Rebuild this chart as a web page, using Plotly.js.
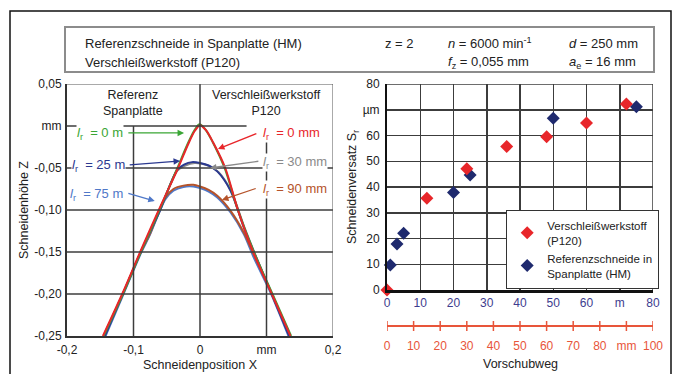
<!DOCTYPE html>
<html><head><meta charset="utf-8">
<script src="https://cdn.plot.ly/plotly-3.0.1.min.js"></script>
<style>html,body{margin:0;padding:0;background:#fff}#chart{width:678px;height:374px}</style>
</head><body><div id="chart"></div>
<script>
// ---------- Left chart: edge profiles (Schneidenposition X [mm], Schneidenhöhe Z [mm]) ----------
const greenX = [-0.145,-0.116,-0.089,-0.061,-0.034,-0.019,-0.009,-0.001,0.008,0.019,0.037,0.057,0.081,0.109,0.137];
const greenZ = [-0.25,-0.20,-0.15,-0.10,-0.05,-0.022,-0.006,0.002,-0.004,-0.019,-0.05,-0.10,-0.15,-0.20,-0.25];
const redX = [-0.146,-0.117,-0.090,-0.062,-0.033,-0.018,-0.008,0.000,0.009,0.020,0.038,0.057,0.080,0.108,0.136];
const redZ = [-0.25,-0.20,-0.15,-0.10,-0.05,-0.022,-0.006,0.001,-0.005,-0.020,-0.05,-0.10,-0.15,-0.20,-0.25];
const darkBlueX = [-0.143,-0.116,-0.089,-0.060,-0.045,-0.034,-0.024,-0.012,0.000,0.013,0.026,0.046,0.066,0.082,0.108,0.134];
const darkBlueZ = [-0.25,-0.20,-0.15,-0.10,-0.070,-0.052,-0.046,-0.043,-0.044,-0.047,-0.054,-0.077,-0.121,-0.152,-0.20,-0.25];
const grayX = [-0.144,-0.116,-0.089,-0.060,-0.045,-0.034,-0.022,-0.008,0.003,0.015,0.028,0.047,0.067,0.082,0.108,0.135];
const grayZ = [-0.25,-0.20,-0.15,-0.10,-0.070,-0.053,-0.047,-0.044,-0.045,-0.048,-0.055,-0.078,-0.121,-0.151,-0.20,-0.25];
const lightBlueX = [-0.142,-0.115,-0.088,-0.075,-0.062,-0.052,-0.040,-0.025,-0.010,0.000,0.013,0.026,0.046,0.066,0.081,0.107,0.133];
const lightBlueZ = [-0.25,-0.20,-0.15,-0.129,-0.104,-0.087,-0.077,-0.0725,-0.072,-0.074,-0.078,-0.085,-0.103,-0.129,-0.157,-0.20,-0.25];
const brownX = [-0.145,-0.116,-0.089,-0.075,-0.062,-0.052,-0.040,-0.025,-0.010,0.000,0.013,0.026,0.046,0.066,0.082,0.108,0.135];
const brownZ = [-0.25,-0.20,-0.15,-0.128,-0.102,-0.085,-0.075,-0.071,-0.070,-0.072,-0.076,-0.083,-0.101,-0.127,-0.155,-0.20,-0.25];

const leftXTickVals = [-0.2,-0.1,0,0.1,0.2];
const leftXTickText = ['-0,2','-0,1','0','mm','0,2'];
const leftYTickVals = [0.05,0,-0.05,-0.10,-0.15,-0.20,-0.25];
const leftYTickText = ['0,05','mm','-0,05','-0,10','-0,15','-0,20','-0,25'];

// ---------- Right chart: Schneidenversatz S_r [µm] vs Vorschubweg ----------
const redFeedMM = [0, 15, 30, 45, 60, 75, 90];
const redOffset = [0, 35.6, 47.1, 55.7, 59.5, 64.9, 72.2];
const blueFeedM = [1, 3, 5, 20, 25, 50, 75];
const blueOffset = [9.7, 17.9, 22.0, 37.9, 44.7, 66.7, 71.2];

const rightYTickVals = [0,10,20,30,40,50,60,70,80];
const rightYTickText = ['0','10','20','30','40','50','60','µm','80'];
const blueXTickVals = [0,10,20,30,40,50,60,70,80];
const blueXTickText = ['0','10','20','30','40','50','60','m','80'];
const redXTickVals = [0,10,20,30,40,50,60,70,80,90,100];
const redXTickText = ['0','10','20','30','40','50','60','70','80','mm','100'];

const FONT = 'Liberation Sans, Arial, sans-serif';
const W = 678, H = 374;
const px = v => v / W, py = v => (H - v) / H;

const cRed = '#e8262a', cGreen = '#3aa635', cDark = '#2b3990', cLight = '#4f78c8', cBrown = '#b5532a', cGray = '#8a8a8a';
const cNavy = '#1f2a6e', cAxisBlue = '#3d3c8e', cAxisRed = '#e8553a';

function prof(x, z, color, w) {
  return {x: x, y: z, xaxis: 'x', yaxis: 'y', type: 'scatter', mode: 'lines',
    line: {color: color, width: w || 2, shape: 'spline', smoothing: 0.8}, showlegend: false, hoverinfo: 'skip'};
}

const data = [
  prof(lightBlueX, lightBlueZ, cLight),
  prof(brownX, brownZ, cBrown),
  prof(grayX, grayZ, cGray),
  prof(darkBlueX, darkBlueZ, cDark),
  prof(greenX, greenZ, cGreen),
  prof(redX, redZ, cRed),
  {x: redFeedMM, y: redOffset, xaxis: 'x3', yaxis: 'y2', type: 'scatter', mode: 'markers',
   name: 'Verschleißwerkstoff<br>(P120)', cliponaxis: false,
   marker: {symbol: 'diamond', size: 10, color: cRed}},
  {x: blueFeedM, y: blueOffset, xaxis: 'x2', yaxis: 'y2', type: 'scatter', mode: 'markers',
   name: 'Referenzschneide in<br>Spanplatte (HM)', cliponaxis: false,
   marker: {symbol: 'diamond', size: 10, color: cNavy}}
];

const gridC = '#3c3c3c';
const shapes = [
  // outer frame and header box
  {type: 'rect', xref: 'paper', yref: 'paper', x0: px(10), x1: px(671), y0: py(11), y1: py(380), line: {color: '#111', width: 1.5}},
  {type: 'rect', xref: 'paper', yref: 'paper', x0: px(65), x1: px(654), y0: py(27), y1: py(72), line: {color: '#8c8c8c', width: 2}, fillcolor: '#fff'},
  // left chart grid
  {type: 'line', xref: 'x', yref: 'y', x0: 0, x1: 0, y0: 0.05, y1: -0.25, line: {color: gridC, width: 1.5}},
  {type: 'line', xref: 'x', yref: 'y', x0: -0.1, x1: -0.1, y0: 0, y1: -0.25, line: {color: gridC, width: 1.5}},
  {type: 'line', xref: 'x', yref: 'y', x0: 0.1, x1: 0.1, y0: 0, y1: -0.25, line: {color: gridC, width: 1.5}},
  {type: 'line', xref: 'x', yref: 'y', x0: -0.2, x1: 0.07, y0: 0, y1: 0, line: {color: gridC, width: 1.5}},
  {type: 'line', xref: 'x', yref: 'y', x0: -0.2, x1: 0.2, y0: -0.05, y1: -0.05, line: {color: gridC, width: 1.5}},
  {type: 'line', xref: 'x', yref: 'y', x0: -0.2, x1: 0.2, y0: -0.10, y1: -0.10, line: {color: gridC, width: 1.5}},
  {type: 'line', xref: 'x', yref: 'y', x0: -0.2, x1: 0.2, y0: -0.15, y1: -0.15, line: {color: gridC, width: 1.5}},
  {type: 'line', xref: 'x', yref: 'y', x0: -0.2, x1: 0.2, y0: -0.20, y1: -0.20, line: {color: gridC, width: 1.5}},
  {type: 'line', xref: 'x', yref: 'y', x0: -0.2, x1: 0.2, y0: 0.05, y1: 0.05, line: {color: '#555', width: 1}},
  {type: 'line', xref: 'x', yref: 'y', x0: 0.2, x1: 0.2, y0: 0.05, y1: -0.25, line: {color: '#555', width: 1}},
  // right chart border top/right
  {type: 'line', xref: 'x2', yref: 'y2', x0: 0, x1: 80, y0: 80, y1: 80, line: {color: gridC, width: 1.5}},
  {type: 'line', xref: 'x2', yref: 'y2', x0: 80, x1: 80, y0: 0, y1: 80, line: {color: gridC, width: 1.5}},
  // red mm axis line
  {type: 'line', xref: 'x3', yref: 'paper', x0: redXTickVals[0], x1: redXTickVals[redXTickVals.length - 1],
   y0: py(326), y1: py(326), line: {color: cAxisRed, width: 2}}
];
// red axis cross ticks at its tick values
redXTickVals.forEach(v => shapes.push({type: 'line', xref: 'x3', yref: 'paper', x0: v, x1: v,
  y0: py(321), y1: py(331), line: {color: cAxisRed, width: 1.5}}));

function lbl(text, x, y, color, anchor) {
  return {text: text, x: x, y: y, xref: 'x', yref: 'y', xanchor: anchor, yanchor: 'middle', showarrow: false,
    font: {family: FONT, size: 13, color: color}, bgcolor: '#fff', borderpad: 0};
}
function arr(x, y, ax, ay, color) {
  return {text: '', x: x, y: y, ax: ax, ay: ay, xref: 'x', yref: 'y', axref: 'x', ayref: 'y', showarrow: true,
    arrowhead: 2, arrowsize: 1, arrowwidth: 1.3, arrowcolor: color};
}
function ptxt(text, x, y, opts) {
  return Object.assign({text: text, x: px(x), y: py(y), xref: 'paper', yref: 'paper', showarrow: false,
    xanchor: 'left', yanchor: 'middle', font: {family: FONT, size: 12, color: '#222'}}, opts || {});
}
const HF = {font: {family: FONT, size: 13, color: '#222'}};
const L = '<i>l</i><sub>r</sub>  = ';
const annotations = [
  // header box
  ptxt('Referenzschneide in Spanplatte (HM)', 83, 43, HF),
  ptxt('Verschleißwerkstoff (P120)', 83, 62, HF),
  ptxt('z = 2', 383, 43, HF),
  ptxt('<i>n</i> = 6000 min<sup style="font-size:8px">-1</sup>', 446, 43, HF),
  ptxt('<i>d</i> = 250 mm', 567, 43, HF),
  ptxt('<i>f</i><sub>z</sub> = 0,055 mm', 446, 62, HF),
  ptxt('<i>a</i><sub>e</sub> = 16 mm', 567, 62, HF),
  // left chart header labels
  ptxt('Referenz<br>Spanplatte', 133, 103, {xanchor: 'center', bgcolor: '#fff', font: {family: FONT, size: 12.5, color: '#222'}}),
  ptxt('Verschleißwerkstoff<br>P120', 266, 103, {xanchor: 'center', bgcolor: '#fff', font: {family: FONT, size: 12.5, color: '#222'}}),
  // axis titles
  ptxt('Schneidenhöhe Z', 24, 210, {xanchor: 'center', textangle: -90, font: {family: FONT, size: 12.5, color: '#222'}}),
  ptxt('Schneidenposition X', 200, 365, {xanchor: 'center', font: {family: FONT, size: 12.5, color: '#222'}}),
  ptxt('Schneidenversatz S<sub>r</sub>', 353, 187, {xanchor: 'center', textangle: -90, font: {family: FONT, size: 12.5, color: '#222'}}),
  ptxt('Vorschubweg', 520, 364, {xanchor: 'center', font: {family: FONT, size: 12.5, color: '#222'}}),
  // curve labels & arrows
  arr(-0.024, -0.0083, -0.110, -0.0083, cGreen),
  arr(-0.030, -0.0417, -0.108, -0.0464, cDark),
  arr(-0.068, -0.0893, -0.110, -0.0798, cLight),
  arr(0.027, -0.0274, 0.087, -0.0083, cRed),
  arr(0.015, -0.0500, 0.090, -0.0417, cGray),
  arr(0.033, -0.0881, 0.086, -0.0738, cBrown),
  lbl(L + '0 m', -0.1143, -0.0095, cGreen, 'right'),
  lbl(L + '25 m', -0.1113, -0.0476, cDark, 'right'),
  lbl(L + '75 m', -0.1143, -0.0821, cLight, 'right'),
  lbl(L + '0 mm', 0.093, -0.0095, cRed, 'left'),
  lbl(L + '30 mm', 0.093, -0.0432, cGray, 'left'),
  lbl(L + '90 mm', 0.093, -0.0750, cBrown, 'left')
];

const tickFont = {family: FONT, size: 12, color: '#222'};
const layout = {
  width: W, height: H, margin: {l: 0, r: 0, t: 0, b: 0},
  paper_bgcolor: '#fff', plot_bgcolor: '#fff', showlegend: true,
  font: {family: FONT},
  xaxis: {domain: [px(67), px(333)], range: [-0.2, 0.2], anchor: 'y', showgrid: false, zeroline: false,
    showline: true, linecolor: '#333', linewidth: 2, ticks: '', tickvals: leftXTickVals, ticktext: leftXTickText,
    tickfont: tickFont, ticklabelstandoff: 2},
  yaxis: {domain: [py(336), py(84)], range: [-0.25, 0.05], anchor: 'x', showgrid: false, zeroline: false,
    showline: true, linecolor: '#333', linewidth: 2, ticks: '', tickvals: leftYTickVals, ticktext: leftYTickText,
    tickfont: tickFont, ticklabelstandoff: 1},
  xaxis2: {domain: [px(387), px(653)], range: [0, 80], anchor: 'y2', showgrid: true, gridcolor: gridC, gridwidth: 1.5,
    zeroline: false, showline: true, linecolor: '#111', linewidth: 3, ticks: '', tickvals: blueXTickVals,
    ticktext: blueXTickText, tickfont: {family: FONT, size: 12, color: cAxisBlue}, ticklabelstandoff: 0},
  yaxis2: {domain: [py(290), py(84)], range: [0, 80], anchor: 'x2', showgrid: true, gridcolor: gridC, gridwidth: 1.5,
    zeroline: false, showline: true, linecolor: '#111', linewidth: 2, ticks: '', tickvals: rightYTickVals,
    ticktext: rightYTickText, tickfont: tickFont, ticklabelstandoff: 3},
  xaxis3: {overlaying: 'x2', anchor: 'free', position: py(326), range: [0, 100], showgrid: false, zeroline: false,
    showline: false, ticks: 'outside', ticklen: 5, tickwidth: 0, tickcolor: 'rgba(0,0,0,0)',
    tickvals: redXTickVals, ticktext: redXTickText, tickfont: {family: FONT, size: 12, color: cAxisRed}, ticklabelstandoff: 4},
  legend: {x: px(506), y: py(210), xanchor: 'left', yanchor: 'top', bgcolor: '#fff', bordercolor: '#333', borderwidth: 1.2,
    font: {family: FONT, size: 11.5, color: '#222'}, tracegroupgap: 0, itemwidth: 30},
  shapes: shapes,
  annotations: annotations
};

Plotly.newPlot('chart', data, layout, {staticPlot: true, displayModeBar: false});
</script>
</body></html>
